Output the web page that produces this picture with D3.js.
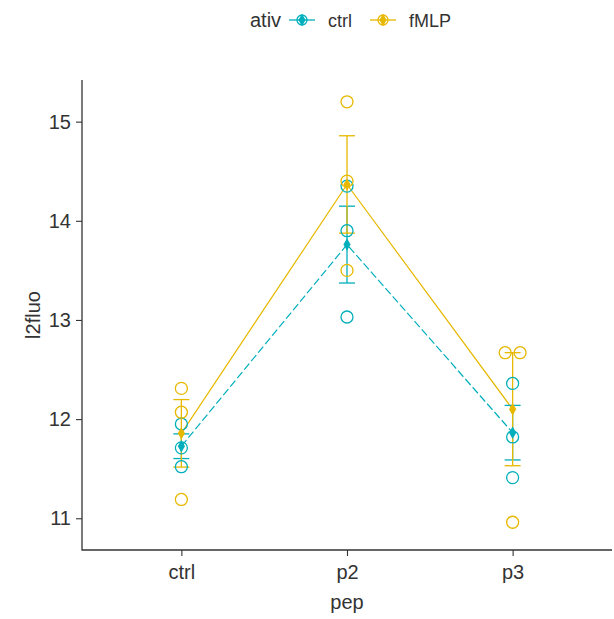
<!DOCTYPE html>
<html>
<head>
<meta charset="utf-8">
<script src="https://cdn.jsdelivr.net/npm/d3@7/dist/d3.min.js"></script>
<style>
  body { margin: 0; background: #fff; }
  text { font-family: "Liberation Sans", Arial, sans-serif; fill: #333; }
</style>
</head>
<body>
<svg id="chart" width="614" height="619"></svg>
<script>
const peps = ["ctrl", "p2", "p3"];
const ativs = ["ctrl", "fMLP"];
const colors = ["#00AFBB", "#E7B800"];
const yTicks = [11, 12, 13, 14, 15];

// replicate values per ativ, per pep
const ctrlValues = {
  ctrl: [11.95, 11.71, 11.52],
  p2: [14.35, 13.9, 13.03],
  p3: [12.36, 11.82, 11.41]
};
const fmlpValues = {
  ctrl: [12.31, 12.07, 11.19],
  p2: [15.2, 14.4, 13.5],
  p3: [12.67, 12.67, 10.96]
};
// small horizontal jitter (category units) seen in the picture
const fmlpJitter = { ctrl: [0, 0, 0], p2: [0, 0, 0], p3: [-0.045, 0.045, 0] };
const ctrlJitter = { ctrl: [0, 0, 0], p2: [0, 0, 0], p3: [0, 0, 0] };

const groups = [
  { ativ: "ctrl", values: ctrlValues, jitter: ctrlJitter, color: colors[0], dash: "8,3" },
  { ativ: "fMLP", values: fmlpValues, jitter: fmlpJitter, color: colors[1], dash: null }
];

const svg = d3.select("#chart");
const mLeft = 82, mRight = 612, mTop = 80, mBottom = 550;

const x = d3.scalePoint().domain(peps).range([mLeft, mRight]).padding(0.6);
const step = x.step();
const y = d3.scaleLinear().domain([10.68, 15.42]).range([mBottom, mTop]);

const summary = g => peps.map(p => {
  const v = g.values[p];
  const m = d3.mean(v);
  const se = d3.deviation(v) / Math.sqrt(v.length);
  return { pep: p, mean: m, lo: m - se, hi: m + se };
});

// axes
const axisColor = "#333";
const yAxis = svg.append("g").attr("transform", `translate(${mLeft},0)`)
  .call(d3.axisLeft(y).tickValues(yTicks).tickFormat(d3.format("d")).tickSize(6).tickPadding(5));
yAxis.select(".domain").remove();
yAxis.selectAll("line").attr("stroke", axisColor).attr("stroke-width", 1.1);
yAxis.selectAll("text").style("font-size", "20px").attr("fill", "#333");

const xAxis = svg.append("g").attr("transform", `translate(0,${mBottom})`)
  .call(d3.axisBottom(x).tickSize(6).tickPadding(9));
xAxis.select(".domain").remove();
xAxis.selectAll("line").attr("stroke", axisColor).attr("stroke-width", 1.1);
xAxis.selectAll("text").style("font-size", "20px").attr("fill", "#333");

svg.append("path")
  .attr("d", `M${mLeft},${mTop}V${mBottom}H${mRight}`)
  .attr("fill", "none").attr("stroke", axisColor).attr("stroke-width", 1.3);

svg.append("text").attr("x", 347).attr("y", 609).attr("text-anchor", "middle")
  .style("font-size", "20px").text("pep");
svg.append("text").attr("transform", `translate(40,${(mTop + mBottom) / 2}) rotate(-90)`)
  .attr("text-anchor", "middle").style("font-size", "20px").text("l2fluo");

// lines of means
groups.forEach(g => {
  const s = summary(g);
  svg.append("path").datum(s)
    .attr("d", d3.line().x(d => x(d.pep)).y(d => y(d.mean)))
    .attr("fill", "none").attr("stroke", g.color).attr("stroke-width", 1.2)
    .attr("stroke-dasharray", g.dash);
});

// error bars
groups.forEach(g => {
  const s = summary(g);
  const eb = svg.append("g").selectAll("g").data(s).enter().append("g")
    .attr("stroke", g.color).attr("stroke-width", 1.3).attr("fill", "none");
  eb.append("line").attr("x1", d => x(d.pep)).attr("x2", d => x(d.pep))
    .attr("y1", d => y(d.lo)).attr("y2", d => y(d.hi));
  eb.append("line").attr("x1", d => x(d.pep) - 8).attr("x2", d => x(d.pep) + 8)
    .attr("y1", d => y(d.lo)).attr("y2", d => y(d.lo));
  eb.append("line").attr("x1", d => x(d.pep) - 8).attr("x2", d => x(d.pep) + 8)
    .attr("y1", d => y(d.hi)).attr("y2", d => y(d.hi));
});

// raw points
groups.forEach(g => {
  const pts = [];
  peps.forEach(p => g.values[p].forEach((v, i) => pts.push({ pep: p, v: v, j: g.jitter[p][i] })));
  svg.append("g").selectAll("circle").data(pts).enter().append("circle")
    .attr("cx", d => x(d.pep) + d.j * step)
    .attr("cy", d => y(d.v))
    .attr("r", 6)
    .attr("fill", "none").attr("stroke", g.color).attr("stroke-width", 1.3);
});

// mean markers
const diamond = d3.symbol().type(d3.symbolDiamond).size(45);
groups.forEach(g => {
  svg.append("g").selectAll("path").data(summary(g)).enter().append("path")
    .attr("d", diamond)
    .attr("transform", d => `translate(${x(d.pep)},${y(d.mean)})`)
    .attr("fill", g.color);
});

// legend
const legend = svg.append("g");
legend.append("text").attr("x", 250).attr("y", 27).style("font-size", "20px").text("ativ");
const legX = [302, 383];
groups.forEach((g, i) => {
  const lg = legend.append("g").attr("transform", `translate(${legX[i]},20)`);
  lg.append("line").attr("x1", -13).attr("x2", 13).attr("stroke", g.color).attr("stroke-width", 1.3);
  lg.append("circle").attr("r", 5).attr("fill", "none").attr("stroke", g.color).attr("stroke-width", 1.3);
  lg.append("path").attr("d", diamond).attr("fill", g.color);
  lg.append("text").attr("x", 26).attr("y", 7).style("font-size", "18px").text(g.ativ);
});
</script>
</body>
</html>
